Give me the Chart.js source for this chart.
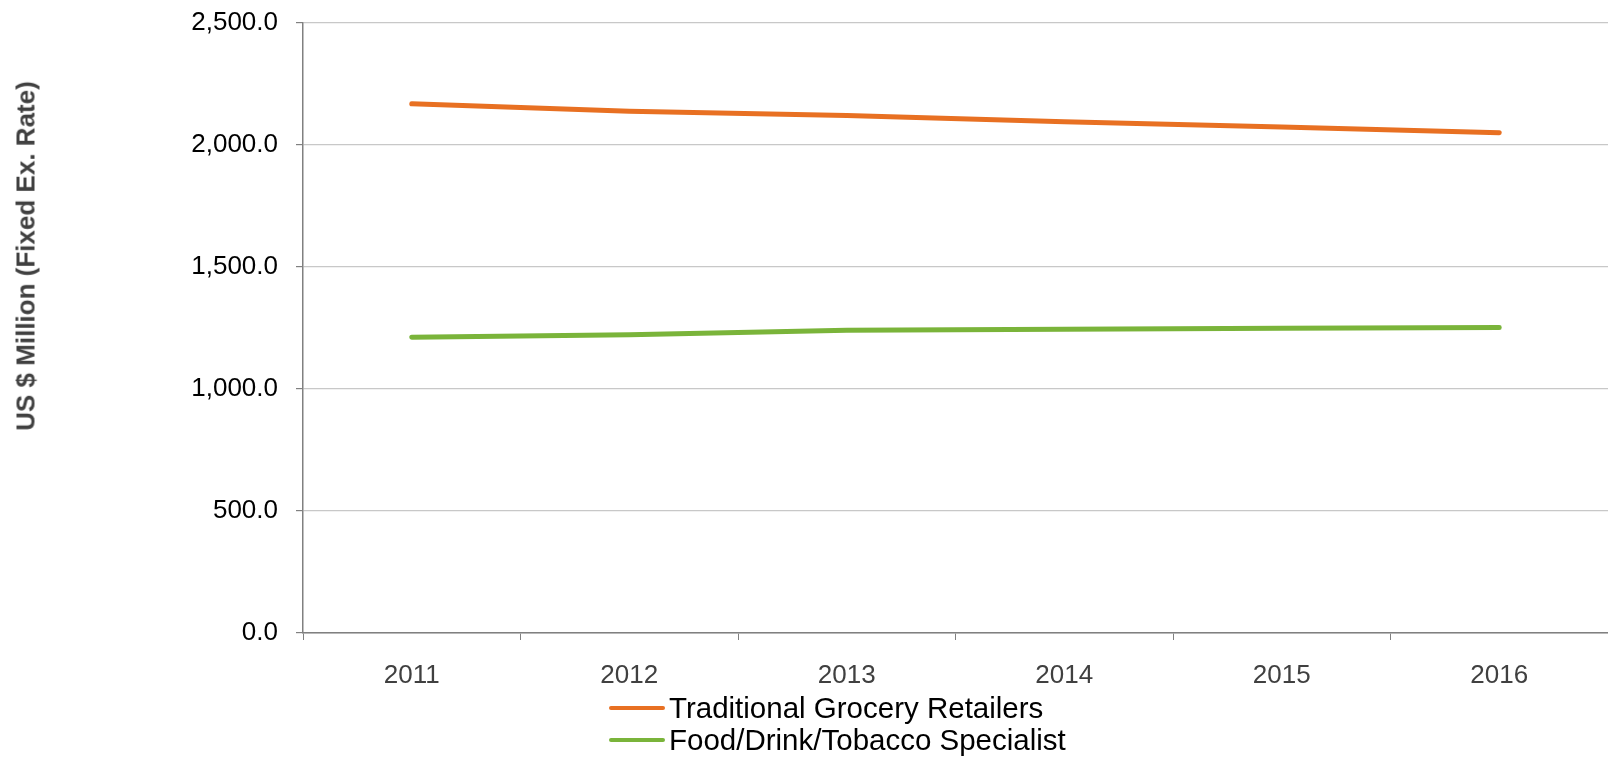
<!DOCTYPE html>
<html>
<head>
<meta charset="utf-8">
<script src="https://cdn.jsdelivr.net/npm/chart.js@4/dist/chart.umd.min.js"></script>
<style>
    body { margin: 0; background: #fff; }
    #wrap { position: relative; width: 1608px; height: 759px; }
    #legend {
        position: absolute; left: 609px; top: 692px;
        font-family: "Liberation Sans", Arial, sans-serif; font-size: 29.5px; color: #000;
    }
    .item { display: flex; align-items: center; height: 32px; }
    .swatch { width: 56px; height: 4.5px; border-radius: 2px; margin-right: 4px; }
    #ytitle {
        position: absolute; left: 26px; top: 256px;
        transform: translate(-50%, -50%) rotate(-90deg);
        white-space: nowrap;
        font-family: "Liberation Sans", Arial, sans-serif; font-size: 26px; font-weight: bold; color: #404040;
    }
</style>
</head>
<body>
<div id="wrap">
    <canvas id="graph" width="1608" height="759"></canvas>
    <div id="ytitle">US $ Million (Fixed Ex. Rate)</div>
    <div id="legend"></div>
</div>
<script>
const years = ['2011', '2012', '2013', '2014', '2015', '2016'];
const traditionalGrocery = [2168, 2138, 2120, 2095, 2073, 2050];
const foodDrinkTobacco = [1212, 1222, 1240, 1245, 1249, 1252];
const yMin = 0;
const yMax = 2500;
const yStep = 500;

const series = [
    { label: 'Traditional Grocery Retailers', data: traditionalGrocery, color: '#E87022' },
    { label: 'Food/Drink/Tobacco Specialist', data: foodDrinkTobacco, color: '#7AB43A' }
];

const ctx = document.getElementById('graph').getContext('2d');
const chart = new Chart(ctx, {
    type: 'line',
    data: {
        labels: years,
        datasets: series.map(s => ({
            label: s.label,
            data: s.data,
            borderColor: s.color,
            backgroundColor: s.color,
            borderWidth: 5,
            borderCapStyle: 'round',
            pointRadius: 0,
            tension: 0
        }))
    },
    options: {
        responsive: false,
        animation: false,
        layout: { padding: 0 },
        plugins: {
            legend: { display: false },
            tooltip: { enabled: false }
        },
        scales: {
            x: {
                offset: true,
                grid: {
                    offset: true,
                    drawOnChartArea: false,
                    tickLength: 7,
                    tickColor: '#808080'
                },
                border: { color: '#808080', width: 1.5 },
                ticks: {
                    padding: 20,
                    color: '#404040',
                    font: { family: 'Liberation Sans', size: 26 }
                },
                afterFit: (s) => { s.height = 126; }
            },
            y: {
                min: yMin,
                max: yMax,
                grid: {
                    color: '#c8c8c8',
                    lineWidth: 1.2,
                    tickLength: 7,
                    tickColor: '#808080'
                },
                border: { color: '#808080', width: 1.5 },
                ticks: {
                    stepSize: yStep,
                    padding: 18,
                    color: '#000',
                    // petite hauteur de ligne pour coller le haut du graphique
                    font: { family: 'Liberation Sans', size: 26, lineHeight: 0.37 },
                    callback: (v) => v.toLocaleString('en-US', { minimumFractionDigits: 1, maximumFractionDigits: 1 })
                },
                afterFit: (s) => { s.width = 303; }
            }
        }
    }
});

// legende empilee sous le graphique
const legend = document.getElementById('legend');
chart.data.datasets.forEach(ds => {
    const row = document.createElement('div');
    row.className = 'item';
    const sw = document.createElement('span');
    sw.className = 'swatch';
    sw.style.background = ds.borderColor;
    const txt = document.createElement('span');
    txt.textContent = ds.label;
    row.appendChild(sw);
    row.appendChild(txt);
    legend.appendChild(row);
});
</script>
</body>
</html>
